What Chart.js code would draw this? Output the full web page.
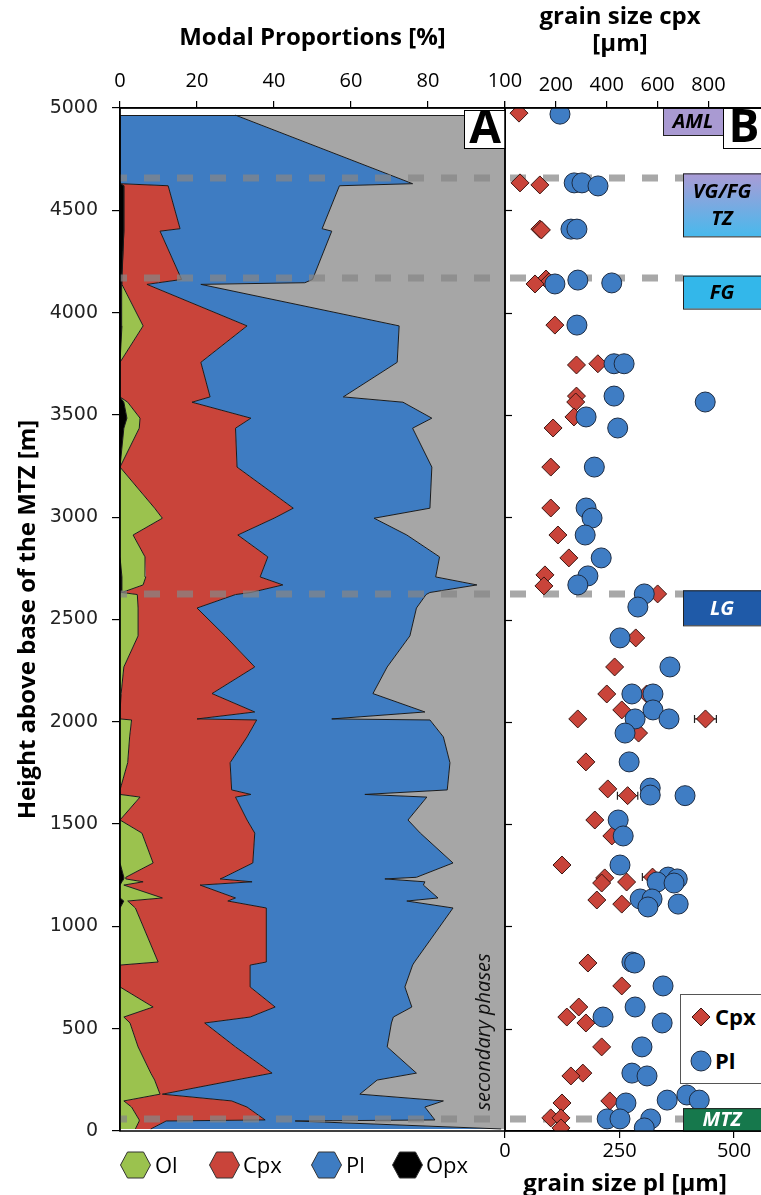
<!DOCTYPE html>
<html>
<head>
<meta charset="utf-8">
<script src="https://cdn.jsdelivr.net/npm/chart.js@4.4.1/dist/chart.umd.min.js"></script>
<style>
  body { margin: 0; width: 761px; height: 1195px; overflow: hidden; position: relative; background: #fff; font-family: 'Open Sans', sans-serif; color: #000; }
  #chart-a { position: absolute; left: 0; top: 0; }
  #chart-b { position: absolute; left: 500px; top: 0; }
  .ttl { position: absolute; font-weight: 700; font-size: 24px; line-height: 27px; text-align: center; white-space: nowrap; }
  .leg { position: absolute; font-size: 22px; line-height: 28px; white-space: nowrap; }
  .leg svg { display: block; }
  #legend-b { position: absolute; left: 680px; top: 994px; width: 95px; height: 88px; border: 1px solid #555; background: #fff; }
</style>
</head>
<body>
<canvas id="chart-a" width="530" height="1195"></canvas>
<canvas id="chart-b" width="295" height="1195"></canvas>

<div class="ttl" style="left:505px; top:1px; width:230px;">grain size cpx<br>[µm]</div>
<div class="ttl" style="left:505px; top:1168px; width:240px;">grain size pl [µm]</div>

<div class="leg" style="left:120px; top:1151px;"><svg width="31" height="28"><polygon points="0.5,14 7.5,1 23.5,1 30.5,14 23.5,27 7.5,27" fill="#9bc24e" stroke="#333"/></svg></div>
<div class="leg" style="left:155px; top:1150px;">Ol</div>
<div class="leg" style="left:209px; top:1151px;"><svg width="31" height="28"><polygon points="0.5,14 7.5,1 23.5,1 30.5,14 23.5,27 7.5,27" fill="#c9443a" stroke="#333"/></svg></div>
<div class="leg" style="left:243px; top:1150px;">Cpx</div>
<div class="leg" style="left:311px; top:1151px;"><svg width="31" height="28"><polygon points="0.5,14 7.5,1 23.5,1 30.5,14 23.5,27 7.5,27" fill="#3e7cc2" stroke="#333"/></svg></div>
<div class="leg" style="left:346px; top:1150px;">Pl</div>
<div class="leg" style="left:392px; top:1151px;"><svg width="31" height="28"><polygon points="0.5,14 7.5,1 23.5,1 30.5,14 23.5,27 7.5,27" fill="#000" stroke="#333"/></svg></div>
<div class="leg" style="left:426px; top:1150px;">Opx</div>

<div id="legend-b">
  <svg style="position:absolute; left:10px; top:12px;" width="20" height="20"><polygon points="10,1 19,10 10,19 1,10" fill="#c9443a" stroke="#3b1410"/></svg>
  <div class="leg" style="left:34px; top:7px; font-weight:700;">Cpx</div>
  <svg style="position:absolute; left:9px; top:55px;" width="22" height="22"><circle cx="11" cy="11" r="10" fill="#3f7dc4" stroke="#1c2c44"/></svg>
  <div class="leg" style="left:34px; top:51px; font-weight:700;">Pl</div>
</div>

<script>
// sample heights above base of the MTZ [m], bottom to top
const heights = [10, 49, 54, 117, 147, 180, 249, 283, 411, 528,
  557, 606, 704, 811, 826, 1090, 1124, 1139, 1202, 1218,
  1232, 1240, 1310, 1456, 1520, 1632, 1645, 1667, 1800, 1926,
  2009, 2014, 2048, 2138, 2268, 2420, 2556, 2622, 2632, 2669,
  2708, 2806, 2913, 2995, 3044, 3245, 3435, 3484, 3562, 3588,
  3757, 3935, 4138, 4146, 4162, 4398, 4410, 4620, 4630, 4965];

// modal proportions [%]
const opx = [0, 0, 0, 0, 0, 0, 0, 0, 0, 0,
  0, 0, 0, 0, 0, 0, 1, 0, 0, 0.5,
  1, 1, 0, 0, 0, 0, 0, 0, 0, 0,
  0, 0, 0, 0, 0, 0, 0, 0, 0.3, 0.5,
  0.5, 0, 0, 0, 0, 0, 1, 1.8, 1, 0,
  0, 0.5, 0.3, 0.5, 0.5, 1, 1, 1, 0, 0];
const ol = [4, 5, 5, 3, 1, 10.4, 9, 8, 4.7, 2.6,
  1, 8.6, 0, 0, 9.9, 4, 1, 11, 1, 5.5,
  0.5, 0.5, 8.6, 5.7, 0, 5.2, 0, 0, 2, 2.5,
  3, 0, 0, 0.3, 1, 4.7, 4.7, 4.5, 0.2, 5.5,
  6.2, 6.5, 3.4, 11, 9, 0, 4, 3.4, 1, 0,
  0, 5.5, 0.2, 0, 0, 0, 0, 0, 0, 0];
const cpx = [4, 7, 32.7, 30, 28, 0.6, 21, 31.5, 25.3, 19.4,
  32.8, 31.7, 33.8, 33.8, 28.1, 34, 26, 19, 19.8, 28.3,
  24.5, 25.5, 25.9, 29.3, 33, 24.8, 34, 29, 26.6, 30.5,
  32.5, 20, 35, 23.6, 34, 22.6, 15.3, 25.5, 33.5, 36.3,
  29.7, 31.9, 27.2, 29, 36, 30.4, 25, 28.8, 16.7, 23.4,
  21, 27, 6.5, 9.5, 15.5, 9.4, 14.6, 11.5, 0, 0];
const pl = [91, 33.5, 44.1, 46.2, 55, 51.3, 36.8, 37.5, 39.4, 48.5,
  37.2, 35.5, 40.2, 42.2, 38.5, 48.5, 46.5, 52.6, 58, 44.9,
  42.8, 50, 52, 43, 41.8, 49.7, 29.6, 56, 57.1, 51,
  45, 35, 44.2, 41.8, 34.4, 48, 57, 49.5, 46.5, 50.4,
  45.6, 44.6, 43.9, 26, 35.5, 50.6, 46, 47, 54.8, 34.6,
  51, 39.5, 14, 38, 34, 44.6, 36.9, 44.5, 76, 30];
const secondary = [1, 54.5, 18.2, 20.8, 16, 37.7, 33.2, 23, 30.6, 29.5,
  29, 24.2, 26, 24, 23.5, 13.5, 25.5, 17.4, 21.2, 20.8,
  31.2, 23, 13.5, 22, 25.2, 20.3, 36.4, 15, 14.3, 16,
  19.5, 45, 20.8, 34.3, 30.6, 24.7, 23, 20.5, 19.5, 7.3,
  18, 17, 25.5, 34, 19.5, 19, 24, 19, 26.5, 42,
  28, 27.5, 79, 52, 50, 45, 47.5, 43, 24, 70];

// grain sizes [µm]
const cpxHeights = [4975, 4634, 4624, 4408, 4404, 4164, 4150, 4140, 3939, 3750,
  3744, 3592, 3563, 3490, 3436, 3245, 3045, 2913, 2801, 2718,
  2664, 2625, 2410, 2268, 2136, 2136, 2058, 2014, 2014, 1945,
  1804, 1672, 1639, 1520, 1442, 1300, 1241, 1237, 1217, 1212,
  1129, 1109, 821, 709, 606, 557, 528, 411, 283, 269,
  147, 137, 64, 64, 15];
const cpxSize = [55, 59, 137, 137, 143, 161, 173, 118, 196, 365,
  281, 281, 278, 271, 189, 180, 180, 208, 251, 157,
  153, 600, 514, 431, 400, 557, 459, 286, 788, 525,
  318, 404, 482, 353, 420, 224, 580, 392, 478, 380,
  361, 459, 326, 459, 290, 243, 318, 380, 306, 259,
  412, 224, 180, 220, 220];
const cpxErr = [0, 0, 0, 0, 0, 0, 0, 0, 0, 0,
  0, 0, 0, 0, 0, 0, 0, 0, 0, 0,
  0, 0, 0, 0, 0, 0, 0, 0, 43, 0,
  0, 0, 40, 0, 0, 0, 40, 0, 0, 0,
  0, 0, 0, 0, 0, 0, 0, 0, 0, 0,
  0, 0, 0, 0, 0];
const plHeights = [4970, 4634, 4634, 4619, 4408, 4408, 4159, 4145, 4140, 3939,
  3750, 3750, 3592, 3563, 3490, 3436, 3245, 3045, 2996, 2913,
  2801, 2713, 2669, 2625, 2561, 2410, 2268, 2136, 2136, 2058,
  2014, 2014, 1945, 1804, 1676, 1642, 1639, 1520, 1442, 1300,
  1241, 1232, 1217, 1212, 1134, 1134, 1109, 1095, 826, 821,
  709, 606, 557, 528, 411, 283, 269, 176, 151, 151,
  137, 59, 59, 59, 15];
const plSize = [120, 151, 168, 203, 144, 157, 159, 233, 109, 157,
  238, 260, 238, 437, 177, 246, 195, 177, 190, 175,
  210, 181, 159, 304, 290, 251, 360, 277, 323, 323,
  284, 358, 262, 271, 317, 317, 393, 247, 258, 251,
  356, 376, 332, 369, 295, 321, 378, 312, 277, 283,
  345, 284, 214, 343, 299, 277, 310, 397, 354, 424,
  264, 223, 251, 318, 304];

// zone boundaries [m] and zone names
const zoneLines = [58, 2623, 4171, 4656];
const zoneNames = ['AML', 'VG/FG\nTZ', 'FG', 'LG', 'MTZ'];

Chart.defaults.font.family = "'Open Sans', sans-serif";
Chart.defaults.color = '#000';

function drawZoneLines(chart, x0, x1, offset) {
  const {ctx} = chart;
  const y = chart.scales.y;
  ctx.save();
  ctx.strokeStyle = 'rgba(135,135,135,0.72)';
  ctx.lineWidth = 7;
  ctx.setLineDash([16, 17]);
  ctx.lineDashOffset = offset;
  zoneLines.forEach(h => {
    const py = Math.round(y.getPixelForValue(h));
    ctx.beginPath();
    ctx.moveTo(x0, py);
    ctx.lineTo(x1, py);
    ctx.stroke();
  });
  ctx.restore();
}

function drawFrame(chart) {
  const {ctx, chartArea: a} = chart;
  ctx.save();
  ctx.strokeStyle = '#000';
  ctx.lineWidth = 1.5;
  ctx.strokeRect(a.left, a.top, a.right - a.left, a.bottom - a.top);
  ctx.restore();
}

function letterBox(ctx, x, y, w, h, letter) {
  ctx.save();
  ctx.fillStyle = '#fff';
  ctx.fillRect(x, y, w, h);
  ctx.strokeStyle = '#000';
  ctx.lineWidth = 1;
  ctx.strokeRect(x + 0.5, y + 0.5, w, h);
  ctx.fillStyle = '#000';
  ctx.font = "bold 46px 'Open Sans'";
  ctx.textAlign = 'center';
  ctx.textBaseline = 'middle';
  ctx.fillText(letter, x + 21, y + h / 2 + 1);
  ctx.restore();
}

// no room kept for half-labels at the ends of the x axes
function noEdgePadding(s) {
  s.paddingLeft = 0;
  s.paddingRight = 0;
}

const panelA = {
  id: 'panelA',
  afterDatasetsDraw(chart) {
    const {ctx, chartArea: a, scales} = chart;
    // top edge of the stacked profile
    const yTop = Math.round(scales.y.getPixelForValue(heights[heights.length - 1])) + 0.5;
    ctx.save();
    ctx.strokeStyle = '#1a1a1a';
    ctx.lineWidth = 1;
    ctx.beginPath();
    ctx.moveTo(scales.x.getPixelForValue(0), yTop);
    ctx.lineTo(scales.x.getPixelForValue(100), yTop);
    ctx.stroke();
    ctx.restore();
    drawZoneLines(chart, a.left, a.right, 9);
    ctx.save();
    ctx.translate(a.right - 21, a.bottom - 99);
    ctx.rotate(-Math.PI / 2);
    ctx.font = "italic 20px 'Open Sans'";
    ctx.fillStyle = '#111';
    ctx.textAlign = 'center';
    ctx.textBaseline = 'middle';
    ctx.fillText('secondary phases', 0, 0);
    ctx.restore();
  },
  afterDraw(chart) {
    const a = chart.chartArea;
    drawFrame(chart);
    letterBox(chart.ctx, a.right - 41, a.top + 2, 41, 38, 'A');
  }
};

const panelB = {
  id: 'panelB',
  beforeDatasetsDraw(chart) {
    const {ctx, chartArea: a, scales} = chart;
    drawZoneLines(chart, a.left, a.left + 178, 28);
    // error bars on cpx grain size
    ctx.save();
    ctx.strokeStyle = '#222';
    ctx.lineWidth = 1.2;
    cpxErr.forEach((e, i) => {
      if (!e) return;
      const py = scales.y.getPixelForValue(cpxHeights[i]);
      const x0 = scales.xCpx.getPixelForValue(cpxSize[i] - e);
      const x1 = scales.xCpx.getPixelForValue(cpxSize[i] + e);
      ctx.beginPath();
      ctx.moveTo(x0, py); ctx.lineTo(x1, py);
      ctx.moveTo(x0, py - 4); ctx.lineTo(x0, py + 4);
      ctx.moveTo(x1, py - 4); ctx.lineTo(x1, py + 4);
      ctx.stroke();
    });
    ctx.restore();
  },
  afterDraw(chart) {
    const {ctx, chartArea: a, scales} = chart;
    const y = scales.y;
    const boxes = [
      {top: y.getPixelForValue(5000), h: 27, left: a.left + 158, w: 60, fill: '#a99ad2', color: '#000'},
      {top: y.getPixelForValue(zoneLines[3]) - 5, h: 63, left: a.left + 178, w: 100, fill: 'grad', color: '#000'},
      {top: y.getPixelForValue(zoneLines[2]) - 2, h: 33, left: a.left + 178, w: 100, fill: '#33b7ea', color: '#000'},
      {top: y.getPixelForValue(zoneLines[1]) - 4, h: 35, left: a.left + 178, w: 100, fill: '#1f5aa8', color: '#fff'},
      {top: y.getPixelForValue(zoneLines[0]) - 11, h: 0, left: a.left + 178, w: 100, fill: '#16784c', color: '#fff'}
    ];
    boxes[4].h = a.bottom - boxes[4].top;
    ctx.save();
    boxes.forEach((b, i) => {
      let fill = b.fill;
      if (fill === 'grad') {
        fill = ctx.createLinearGradient(0, b.top, 0, b.top + b.h);
        fill.addColorStop(0, '#ab9bd6');
        fill.addColorStop(1, '#48b9ec');
      }
      ctx.fillStyle = fill;
      ctx.fillRect(b.left, b.top, b.w, b.h);
      ctx.strokeStyle = '#222';
      ctx.lineWidth = 1;
      ctx.strokeRect(b.left + 0.5, b.top + 0.5, b.w, b.h);
      const lines = zoneNames[i].split('\n');
      const cx = i === 0 ? b.left + 30 : b.left + 39;
      ctx.fillStyle = b.color;
      ctx.font = "italic bold 20px 'Open Sans'";
      ctx.textAlign = 'center';
      ctx.textBaseline = 'middle';
      lines.forEach((t, k) => {
        const cy = b.top + b.h / 2 + (k - (lines.length - 1) / 2) * 27 + 1;
        ctx.fillText(t, cx, cy);
      });
    });
    ctx.restore();
    // inward ticks on the left edge of panel B
    ctx.save();
    ctx.strokeStyle = '#000';
    ctx.lineWidth = 1.2;
    y.ticks.forEach(t => {
      if (t.value <= 0 || t.value >= 5000) return;
      const py = Math.round(y.getPixelForValue(t.value)) + 0.5;
      ctx.beginPath(); ctx.moveTo(a.left, py); ctx.lineTo(a.left + 7, py); ctx.stroke();
    });
    ctx.restore();
    drawFrame(chart);
    letterBox(ctx, a.left + 218, a.top, 50, 40, 'B');
  }
};

function phase(label, data, color, fill) {
  return {
    label: label,
    data: data,
    backgroundColor: color,
    borderColor: '#1a1a1a',
    borderWidth: 1,
    pointRadius: 0,
    tension: 0,
    fill: fill
  };
}

const chartA = new Chart(document.getElementById('chart-a'), {
  type: 'line',
  data: {
    labels: heights,
    datasets: [
      phase('Opx', opx, '#000000', 'origin'),
      phase('Ol', ol, '#9bc24e', '-1'),
      phase('Cpx', cpx, '#c9443a', '-1'),
      phase('Pl', pl, '#3e7cc2', '-1'),
      phase('secondary phases', secondary, '#a6a6a6', '-1')
    ]
  },
  options: {
    responsive: false,
    animation: false,
    indexAxis: 'y',
    layout: { autoPadding: false, padding: { left: 0, right: 25, top: 0, bottom: 64 } },
    plugins: { legend: { display: false }, tooltip: { enabled: false } },
    scales: {
      x: {
        type: 'linear',
        position: 'top',
        stacked: true,
        min: 0,
        max: 100,
        ticks: { stepSize: 20, padding: 8, font: { size: 20 }, color: '#000' },
        grid: { drawOnChartArea: false, tickLength: 7, color: '#000', lineWidth: 1.2 },
        border: { color: '#000', width: 1.5 },
        title: { display: true, text: 'Modal Proportions [%]', color: '#000', font: { size: 24, weight: 'bold' }, padding: { top: 24, bottom: 0 } },
        afterFit: s => { s.height = 108; noEdgePadding(s); }
      },
      y: {
        type: 'linear',
        min: 0,
        max: 5000,
        ticks: { stepSize: 500, padding: 14, font: { family: 'DejaVu Sans', size: 19 }, color: '#222', callback: v => String(v) },
        grid: { drawOnChartArea: false, tickLength: 8, color: '#000', lineWidth: 1.2 },
        border: { color: '#000', width: 1.5 },
        title: { display: true, text: 'Height above base of the MTZ [m]', color: '#000', font: { size: 24, weight: 'bold' }, padding: { top: 14, bottom: 0 } },
        afterFit: s => { s.width = 120; s.paddingTop = 0; s.paddingBottom = 0; }
      }
    }
  },
  plugins: [panelA]
});

const chartB = new Chart(document.getElementById('chart-b'), {
  type: 'scatter',
  data: {
    datasets: [
      {
        label: 'Pl',
        data: plHeights.map((h, i) => ({ x: plSize[i], y: h })),
        xAxisID: 'xPl',
        pointStyle: 'circle',
        pointRadius: 10,
        backgroundColor: '#3f7dc4',
        borderColor: '#1c2c44',
        borderWidth: 1
      },
      {
        label: 'Cpx',
        data: cpxHeights.map((h, i) => ({ x: cpxSize[i], y: h })),
        xAxisID: 'xCpx',
        pointStyle: 'rectRot',
        pointRadius: 9,
        backgroundColor: '#c9443a',
        borderColor: '#3b1410',
        borderWidth: 1
      }
    ]
  },
  options: {
    responsive: false,
    animation: false,
    layout: { autoPadding: false, padding: { left: 5, right: 0, top: 0, bottom: 0 } },
    plugins: { legend: { display: false }, tooltip: { enabled: false } },
    scales: {
      xCpx: {
        type: 'linear',
        position: 'top',
        min: 0,
        max: 1140,
        ticks: { stepSize: 200, padding: 4, font: { size: 20 }, color: '#000', callback: v => (v > 0 ? v : '') },
        afterBuildTicks: s => { s.ticks = s.ticks.filter(t => t.value <= 800); },
        grid: { drawOnChartArea: false, tickLength: 7, color: '#000', lineWidth: 1.2 },
        border: { color: '#000', width: 1.5 },
        afterFit: s => { s.height = 108; noEdgePadding(s); }
      },
      xPl: {
        type: 'linear',
        position: 'bottom',
        min: 0,
        max: 633,
        ticks: { stepSize: 250, padding: 1, font: { size: 20 }, color: '#000' },
        afterBuildTicks: s => { s.ticks = s.ticks.filter(t => t.value <= 500); },
        grid: { drawOnChartArea: false, tickLength: 7, color: '#000', lineWidth: 1.2 },
        border: { color: '#000', width: 1.5 },
        afterFit: s => { s.height = 64; noEdgePadding(s); }
      },
      y: { type: 'linear', display: false, min: 0, max: 5000, ticks: { stepSize: 500 } }
    }
  },
  plugins: [panelB]
});
</script>
</body>
</html>
